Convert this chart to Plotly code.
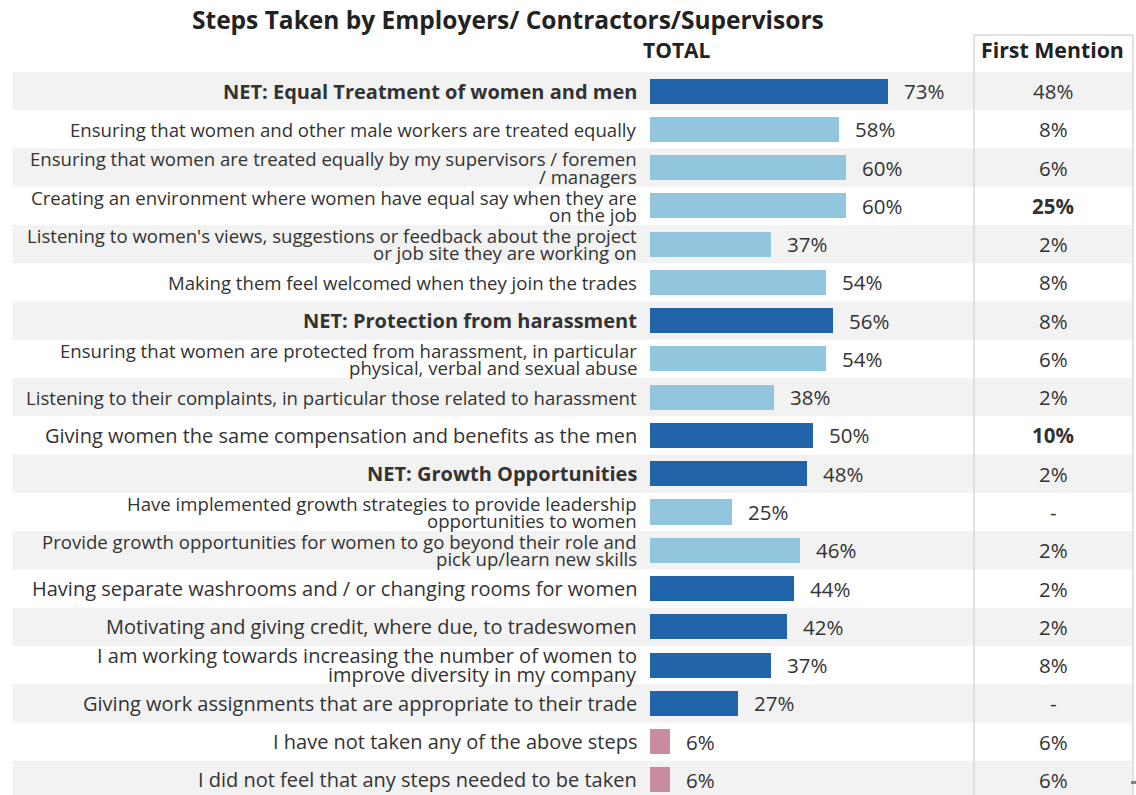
import plotly.graph_objects as go

# Survey rows, top to bottom
labels = [
    "NET: Equal Treatment of women and men",
    "Ensuring that women and other male workers are treated equally",
    "Ensuring that women are treated equally by my supervisors / foremen<br>/ managers",
    "Creating an environment where women have equal say when they are<br>on the job",
    "Listening to women's views, suggestions or feedback about the project<br>or job site they are working on",
    "Making them feel welcomed when they join the trades",
    "NET: Protection from harassment",
    "Ensuring that women are protected from harassment, in particular<br>physical, verbal and sexual abuse",
    "Listening to their complaints, in particular those related to harassment",
    "Giving women the same compensation and benefits as the men",
    "NET: Growth Opportunities",
    "Have implemented growth strategies to provide leadership<br>opportunities to women",
    "Provide growth opportunities for women to go beyond their role and<br>pick up/learn new skills",
    "Having separate washrooms and / or changing rooms for women",
    "Motivating and giving credit, where due, to tradeswomen",
    "I am working towards increasing the number of women to<br>improve diversity in my company",
    "Giving work assignments that are appropriate to their trade",
    "I have not taken any of the above steps",
    "I did not feel that any steps needed to be taken",
]
total_pct = [73, 58, 60, 60, 37, 54, 56, 54, 38, 50, 48, 25, 46, 44, 42, 37, 27, 6, 6]
first_mention = ["48%", "8%", "6%", "25%", "2%", "8%", "8%", "6%", "2%", "10%",
                 "2%", "-", "2%", "2%", "2%", "8%", "-", "6%", "6%"]
first_mention_bold = [False, False, False, True, False, False, False, False, False, True,
                      False, False, False, False, False, False, False, False, False]
row_kind = ["net", "sub", "sub", "sub", "sub", "sub", "net", "sub", "sub", "item",
            "net", "sub", "sub", "item", "item", "item", "item", "none", "none"]

KIND_COLOR = {"net": "#2264AA", "item": "#2264AA", "sub": "#92C5DE", "none": "#C98C9E"}
KIND_SIZE = {"net": 20, "item": 20, "none": 20, "sub": 18.6}
KIND_LINE_SHIFT = {"net": 9.5, "item": 9.5, "none": 9.5, "sub": 8.7}
TEXT = "#333333"
FONT = "Open Sans"

W, H = 1136, 795
ROW_TOP = 72.0       # top edge of first row (px)
ROW_H = 38.26        # row pitch (px)
X0_PX = 650.0        # bar baseline (px)
PX_PER_PCT = 3.265

n = len(labels)
rows = list(range(n))
bottom_row_pos = (H - ROW_TOP) / ROW_H - 0.5   # row coordinate at figure bottom

fig = go.Figure()

fig.add_trace(go.Bar(
    y=rows, x=total_pct, orientation="h",
    width=0.655,
    marker=dict(color=[KIND_COLOR[k] for k in row_kind], line=dict(width=0)),
    hoverinfo="skip", showlegend=False,
))

shapes = []
# alternating row shading
for i in rows:
    if i % 2 == 0:
        shapes.append(dict(type="rect", xref="paper", yref="y", layer="below",
                           x0=12.5 / W, x1=1132 / W, y0=i - 0.5, y1=i + 0.5,
                           fillcolor="#F2F2F2", line=dict(width=0)))

# frame around the First Mention column
line_style = dict(color="#D9D9D9", width=1.5)
shapes += [
    dict(type="line", xref="paper", yref="paper", x0=974 / W, x1=974 / W,
         y0=0, y1=1 - 35 / H, line=line_style),
    dict(type="line", xref="paper", yref="paper", x0=1133 / W, x1=1133 / W,
         y0=0, y1=1 - 35 / H, line=line_style),
    dict(type="line", xref="paper", yref="paper", x0=974 / W, x1=1133 / W,
         y0=1 - 35 / H, y1=1 - 35 / H, line=line_style),
    dict(type="rect", xref="paper", yref="paper", x0=1131 / W, x1=1136 / W,
         y0=1 - 784 / H, y1=1 - 781 / H, fillcolor="#808080", line=dict(width=0)),
]

annotations = []
for i, (lab, kind, val, fm, fb) in enumerate(zip(labels, row_kind, total_pct,
                                                  first_mention, first_mention_bold)):
    lines = lab.split("<br>")
    d = KIND_LINE_SHIFT[kind]
    shifts = [0] if len(lines) == 1 else [d, -d]
    for ln, ys in zip(lines, shifts):
        txt = f"<b>{ln}</b>" if kind == "net" else ln
        annotations.append(dict(
            xref="paper", yref="y", x=639 / W, y=i, yshift=ys,
            xanchor="right", yanchor="middle", showarrow=False, text=txt,
            font=dict(family=FONT, size=KIND_SIZE[kind], color=TEXT)))
    annotations.append(dict(
        xref="x", yref="y", x=val, y=i, xshift=14, xanchor="left",
        yanchor="middle", showarrow=False, text=f"{val}%",
        font=dict(family=FONT, size=20.5, color=TEXT)))
    annotations.append(dict(
        xref="paper", yref="y", x=1053 / W, y=i, xanchor="center",
        yanchor="middle", showarrow=False, text=f"<b>{fm}</b>" if fb else fm,
        font=dict(family=FONT, size=20.5, color=TEXT)))

# headers and title
annotations += [
    dict(xref="paper", yref="paper", x=508 / W, y=1 - 20 / H, xanchor="center",
         yanchor="middle", showarrow=False,
         text="<b>Steps Taken by Employers/ Contractors/Supervisors</b>",
         font=dict(family=FONT, size=24.5, color="#222222")),
    dict(xref="paper", yref="paper", x=676.5 / W, y=1 - 50 / H, xanchor="center",
         yanchor="middle", showarrow=False, text="<b>TOTAL</b>",
         font=dict(family=FONT, size=21, color="#222222")),
    dict(xref="paper", yref="paper", x=1052.5 / W, y=1 - 50 / H, xanchor="center",
         yanchor="middle", showarrow=False, text="<b>First Mention</b>",
         font=dict(family=FONT, size=21.3, color="#222222")),
]

fig.update_layout(
    width=W, height=H,
    margin=dict(l=0, r=0, t=0, b=0),
    paper_bgcolor="white", plot_bgcolor="rgba(0,0,0,0)",
    shapes=shapes, annotations=annotations,
    xaxis=dict(domain=[X0_PX / W, 1], range=[0, (W - X0_PX) / PX_PER_PCT],
               visible=False, fixedrange=True),
    yaxis=dict(domain=[0, 1 - ROW_TOP / H], range=[bottom_row_pos, -0.5],
               visible=False, fixedrange=True),
    bargap=0,
)

fig.write_html("out.html")
